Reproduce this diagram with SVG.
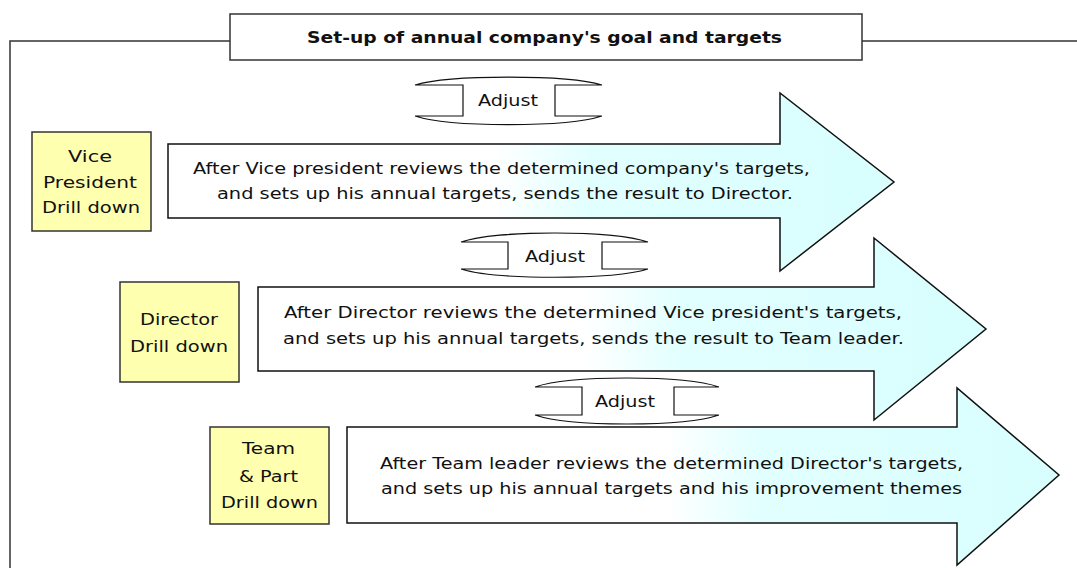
<svg xmlns="http://www.w3.org/2000/svg" width="1077" height="568" viewBox="0 0 1077 568">
<defs>
<linearGradient id="cy" x1="0" y1="0" x2="1" y2="0">
<stop offset="0" stop-color="#ffffff"/>
<stop offset="0.45" stop-color="#ffffff"/>
<stop offset="0.58" stop-color="#e2ffff"/>
<stop offset="1" stop-color="#d8fefe"/>
</linearGradient>
</defs>
<style>
text{font-family:"DejaVu Sans","Liberation Sans",sans-serif;fill:#111;}
.t{font-size:16px;}
.b{font-size:15px;}
.ttl{font-size:15px;font-weight:bold;}
.frame{fill:none;stroke:#333;stroke-width:1.5;}
.arrow{fill:url(#cy);stroke:#111;stroke-width:1.5;stroke-linejoin:miter;}
.box{fill:#ffffb0;stroke:#333;stroke-width:1.5;}
.adjfill{fill:#fff;stroke:none;}
.adj{fill:none;stroke:#111;stroke-width:1.2;}
</style>
<rect width="1077" height="568" fill="#fff"/>
<g id="connectors">
<path class="frame" d="M10,568 V41 H230 M862,41 H1077"/>
</g>
<g id="title">
<rect x="230" y="14" width="632" height="46" fill="#fff" stroke="#333" stroke-width="1.5"/>
<text class="ttl" x="307" y="43" textLength="475" lengthAdjust="spacingAndGlyphs">Set-up of annual company's goal and targets</text>
</g>
<g id="arrow1">
<path class="arrow" d="M168,144 H780 V93 L894,182 L780,271 V218 H168 Z"/>
<text class="t" x="193" y="174" textLength="617" lengthAdjust="spacingAndGlyphs">After Vice president reviews the determined company's targets,</text>
<text class="t" x="217" y="199" textLength="576" lengthAdjust="spacingAndGlyphs">and sets up his annual targets, sends the result to Director.</text>
</g>
<g id="arrow2">
<path class="arrow" d="M258,287 H874 V238 L986,329 L874,420 V371 H258 Z"/>
<text class="t" x="284" y="318" textLength="618" lengthAdjust="spacingAndGlyphs">After Director reviews the determined Vice president's targets,</text>
<text class="t" x="283" y="344" textLength="621" lengthAdjust="spacingAndGlyphs">and sets up his annual targets, sends the result to Team leader.</text>
</g>
<g id="arrow3">
<path class="arrow" d="M347,427 H957 V388 L1059,475 L957,565 V523 H347 Z"/>
<text class="t" x="380" y="469" textLength="583" lengthAdjust="spacingAndGlyphs">After Team leader reviews the determined Director's targets,</text>
<text class="t" x="381" y="494" textLength="581" lengthAdjust="spacingAndGlyphs">and sets up his annual targets and his improvement themes</text>
</g>
<g id="vp-box">
<rect class="box" x="32" y="132" width="119" height="99"/>
<text class="b" x="68" y="162" textLength="44" lengthAdjust="spacingAndGlyphs">Vice</text>
<text class="b" x="43" y="188" textLength="94" lengthAdjust="spacingAndGlyphs">President</text>
<text class="b" x="42" y="213" textLength="98" lengthAdjust="spacingAndGlyphs">Drill down</text>
</g>
<g id="director-box">
<rect class="box" x="120" y="282" width="119" height="100"/>
<text class="b" x="140" y="325" textLength="78" lengthAdjust="spacingAndGlyphs">Director</text>
<text class="b" x="130" y="352" textLength="98" lengthAdjust="spacingAndGlyphs">Drill down</text>
</g>
<g id="team-box">
<rect class="box" x="210" y="427" width="119" height="97"/>
<text class="b" x="242" y="454" textLength="53" lengthAdjust="spacingAndGlyphs">Team</text>
<text class="b" x="239" y="482" textLength="59" lengthAdjust="spacingAndGlyphs">&amp; Part</text>
<text class="b" x="221" y="508" textLength="97" lengthAdjust="spacingAndGlyphs">Drill down</text>
</g>
<g id="adjust1">
<path class="adjfill" d="M415,85 C450,74.5 567,74.5 602,85 L602,116 C567,127.5 450,127.5 415,116 Z"/>
<path class="adj" d="M415,85 C450,74.5 567,74.5 602,85 M415,116 C450,127.5 567,127.5 602,116 M415,85 H463 V116 H415 M602,85 H555 V116 H602"/>
<text class="t" x="478" y="106" textLength="60" lengthAdjust="spacingAndGlyphs">Adjust</text>
</g>
<g id="adjust2">
<path class="adjfill" d="M461,242 C496,230 613,230 648,242 L648,269 C613,280 496,280 461,269 Z"/>
<path class="adj" d="M461,242 C496,230 613,230 648,242 M461,269 C496,280 613,280 648,269 M461,242 H508 V269 H461 M648,242 H602 V269 H648"/>
<text class="t" x="525" y="262" textLength="60" lengthAdjust="spacingAndGlyphs">Adjust</text>
</g>
<g id="adjust3">
<path class="adjfill" d="M535,387 C570,375 684,375 719,387 L719,415 C684,427 570,427 535,415 Z"/>
<path class="adj" d="M535,387 C570,375 684,375 719,387 M535,415 C570,427 684,427 719,415 M535,387 H582 V415 H535 M719,387 H674 V415 H719"/>
<text class="t" x="595" y="407" textLength="60" lengthAdjust="spacingAndGlyphs">Adjust</text>
</g>
</svg>
